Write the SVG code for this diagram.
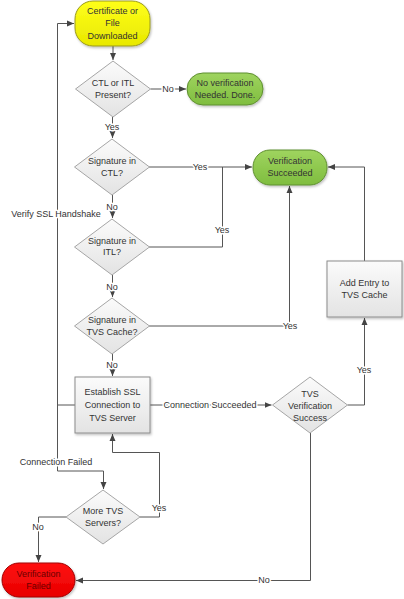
<svg xmlns="http://www.w3.org/2000/svg" width="404" height="599" viewBox="0 0 404 599">
<defs>
<style>
text{font-family:"Liberation Sans",Arial,sans-serif;font-size:9px;fill:#333;text-anchor:middle}
.lbl{stroke:#fff;stroke-width:3px;paint-order:stroke;stroke-linejoin:round}
.c{fill:none;stroke:#555;stroke-width:1}
.dia{fill:url(#gGray);stroke:#a6a6a6;stroke-width:1}
.box{fill:url(#gGray);stroke:#8c8c8c;stroke-width:1;filter:url(#sh)}
.green{fill:url(#gGreen);stroke:#5f8f30;stroke-width:1;filter:url(#sh)}
.yellow{fill:url(#gYellow);stroke:#9a9a20;stroke-width:1;filter:url(#sh)}
.red{fill:url(#gRed);stroke:#a00000;stroke-width:1;filter:url(#sh)}
.rt{fill:#6b0000}
</style>
<linearGradient id="gGray" x1="0" y1="0" x2="0" y2="1"><stop offset="0" stop-color="#fbfbfb"/><stop offset="1" stop-color="#e3e3e3"/></linearGradient>
<linearGradient id="gGreen" x1="0" y1="0" x2="0" y2="1"><stop offset="0" stop-color="#9fd45f"/><stop offset="1" stop-color="#7fbd3f"/></linearGradient>
<linearGradient id="gYellow" x1="0" y1="0" x2="0" y2="1"><stop offset="0" stop-color="#ffff1a"/><stop offset="1" stop-color="#e8e800"/></linearGradient>
<linearGradient id="gRed" x1="0" y1="0" x2="0" y2="1"><stop offset="0" stop-color="#ff1010"/><stop offset="1" stop-color="#e80000"/></linearGradient>
<filter id="sh" x="-10%" y="-10%" width="130%" height="140%"><feDropShadow dx="1" dy="1.5" stdDeviation="1" flood-color="#000" flood-opacity="0.25"/></filter>
<marker id="ah" markerUnits="userSpaceOnUse" markerWidth="8" markerHeight="8" refX="7" refY="4" orient="auto"><path d="M0,1 L7,4 L0,7 Z" fill="#444"/></marker>
</defs>

<g id="connectors">
<path class="c" d="M113,46 V60" marker-end="url(#ah)"/>
<path class="c" d="M150.5,89 H186" marker-end="url(#ah)"/>
<path class="c" d="M112.5,117 V138" marker-end="url(#ah)"/>
<path class="c" d="M149,167 H252" marker-end="url(#ah)"/>
<path class="c" d="M112.5,195 V218" marker-end="url(#ah)"/>
<path class="c" d="M149,247 H222.5 V167"/>
<path class="c" d="M112.5,275 V297" marker-end="url(#ah)"/>
<path class="c" d="M149,326 H289.5 V186" marker-end="url(#ah)"/>
<path class="c" d="M112.5,354 V376" marker-end="url(#ah)"/>
<path class="c" d="M150,405 H271.5" marker-end="url(#ah)"/>
<path class="c" d="M347.5,405 H364.5 V318" marker-end="url(#ah)"/>
<path class="c" d="M364.5,261 V167 H328" marker-end="url(#ah)"/>
<path class="c" d="M310.5,433 V580.5 H76" marker-end="url(#ah)"/>
<path class="c" d="M75,405 H57.5 V23.5 H74" marker-end="url(#ah)"/>
<path class="c" d="M57.5,405 V471 H103.5 V489" marker-end="url(#ah)"/>
<path class="c" d="M140,517 H159.5 V452.5 H112.5 V434" marker-end="url(#ah)"/>
<path class="c" d="M66,517 H38.5 V562" marker-end="url(#ah)"/>
<text class="lbl" x="168" y="92">No</text>
<text class="lbl" x="112" y="130">Yes</text>
<text class="lbl" x="200" y="170">Yes</text>
<text class="lbl" x="112" y="210">No</text>
<text class="lbl" x="222" y="233">Yes</text>
<text class="lbl" x="112" y="290">No</text>
<text class="lbl" x="290" y="329">Yes</text>
<text class="lbl" x="112" y="368">No</text>
<text class="lbl" x="210" y="408">Connection Succeeded</text>
<text class="lbl" x="364" y="373">Yes</text>
<text class="lbl" x="264" y="583">No</text>
<text class="lbl" x="56" y="217">Verify SSL Handshake</text>
<text class="lbl" x="56" y="465">Connection Failed</text>
<text class="lbl" x="159" y="511">Yes</text>
<text class="lbl" x="38" y="530">No</text>
</g>

<g id="start">
<rect class="yellow" x="75" y="1" width="75" height="45" rx="18"/>
<text x="112.5" y="13.5">Certificate or</text>
<text x="112.5" y="26">File</text>
<text x="112.5" y="38.5">Downloaded</text>
</g>

<g id="ctlOrItl">
<polygon class="dia" points="113,61 150.5,89 113,117 75.5,89"/>
<text x="113" y="85.5">CTL or ITL</text>
<text x="113" y="97.5">Present?</text>
</g>

<g id="noVerification">
<rect class="green" x="187" y="73" width="76" height="32" rx="16"/>
<text x="225" y="85.5">No verification</text>
<text x="225" y="97.5">Needed. Done.</text>
</g>

<g id="sigCtl">
<polygon class="dia" points="112,139 149.5,167 112,195 74.5,167"/>
<text x="112" y="164">Signature in</text>
<text x="112" y="176">CTL?</text>
</g>

<g id="verificationSucceeded">
<rect class="green" x="253" y="150" width="74" height="35" rx="17"/>
<text x="290" y="164">Verification</text>
<text x="290" y="176">Succeeded</text>
</g>

<g id="sigItl">
<polygon class="dia" points="112,219 149.5,247 112,275 74.5,247"/>
<text x="112" y="243.5">Signature in</text>
<text x="112" y="255">ITL?</text>
</g>

<g id="sigTvsCache">
<polygon class="dia" points="112,298 149.5,326 112,354 74.5,326"/>
<text x="112" y="322.5">Signature in</text>
<text x="112" y="335">TVS Cache?</text>
</g>

<g id="establishSsl">
<rect class="box" x="75" y="377" width="75" height="56"/>
<text x="112.5" y="395">Establish SSL</text>
<text x="112.5" y="408">Connection to</text>
<text x="112.5" y="421">TVS Server</text>
</g>

<g id="tvsVerification">
<polygon class="dia" points="310,377 347.5,405 310,433 272.5,405"/>
<text x="310" y="397">TVS</text>
<text x="310" y="409">Verification</text>
<text x="310" y="421">Success</text>
</g>

<g id="addEntry">
<rect class="box" x="327" y="261" width="75" height="56"/>
<text x="364.5" y="286">Add Entry to</text>
<text x="364.5" y="298">TVS Cache</text>
</g>

<g id="moreTvs">
<polygon class="dia" points="103,490 140,517 103,544 66,517"/>
<text x="103" y="514">More TVS</text>
<text x="103" y="526">Servers?</text>
</g>

<g id="verificationFailed">
<rect class="red" x="2" y="563" width="73" height="34" rx="17"/>
<text class="rt" x="38.5" y="577">Verification</text>
<text class="rt" x="38.5" y="589">Failed</text>
</g>
</svg>
